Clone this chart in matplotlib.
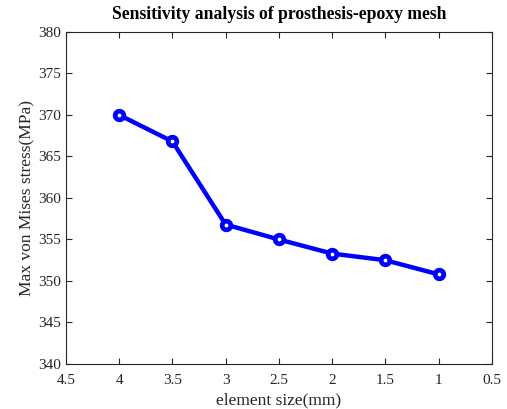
import matplotlib
matplotlib.use("Agg")
import matplotlib.pyplot as plt

# mesh convergence: element size vs peak von Mises stress
element_size = [4, 3.5, 3, 2.5, 2, 1.5, 1]
max_stress = [370.0, 366.8, 356.8, 355.0, 353.3, 352.5, 350.8]

x_ticks = [4.5, 4, 3.5, 3, 2.5, 2, 1.5, 1, 0.5]
y_ticks = [340, 345, 350, 355, 360, 365, 370, 375, 380]

plt.rcParams["font.family"] = ["Liberation Serif", "DejaVu Serif"]

fig = plt.figure(figsize=(5.07, 4.09), dpi=100)
ax = fig.add_axes([0.130, 0.110, 0.840, 0.812])

ax.plot(element_size, max_stress, color="#0000ff", linewidth=3.2,
        marker="o", markersize=6.2, markerfacecolor="white",
        markeredgewidth=3.4, markeredgecolor="#0000ff")

ax.set_xlim(4.5, 0.5)
ax.set_ylim(340, 380)
ax.set_xticks(x_ticks)
ax.set_xticklabels([f"{t:g}" for t in x_ticks])
ax.set_yticks(y_ticks)

ax.tick_params(direction="in", top=True, right=True, length=4,
               width=0.8, colors="#262626", labelsize=11)
ax.tick_params(axis="x", pad=7)
for side in ax.spines.values():
    side.set_color("#262626")
    side.set_linewidth(0.8)

ax.set_xlabel("element size(mm)", fontsize=12.5, color="#262626", labelpad=4)
ax.set_ylabel("Max von Mises stress(MPa)", fontsize=12.5, color="#262626", labelpad=2)
ax.set_title("Sensitivity analysis of prosthesis-epoxy mesh", fontsize=12.7,
             fontweight="bold", pad=9)

fig.savefig("out.png", dpi=100)
